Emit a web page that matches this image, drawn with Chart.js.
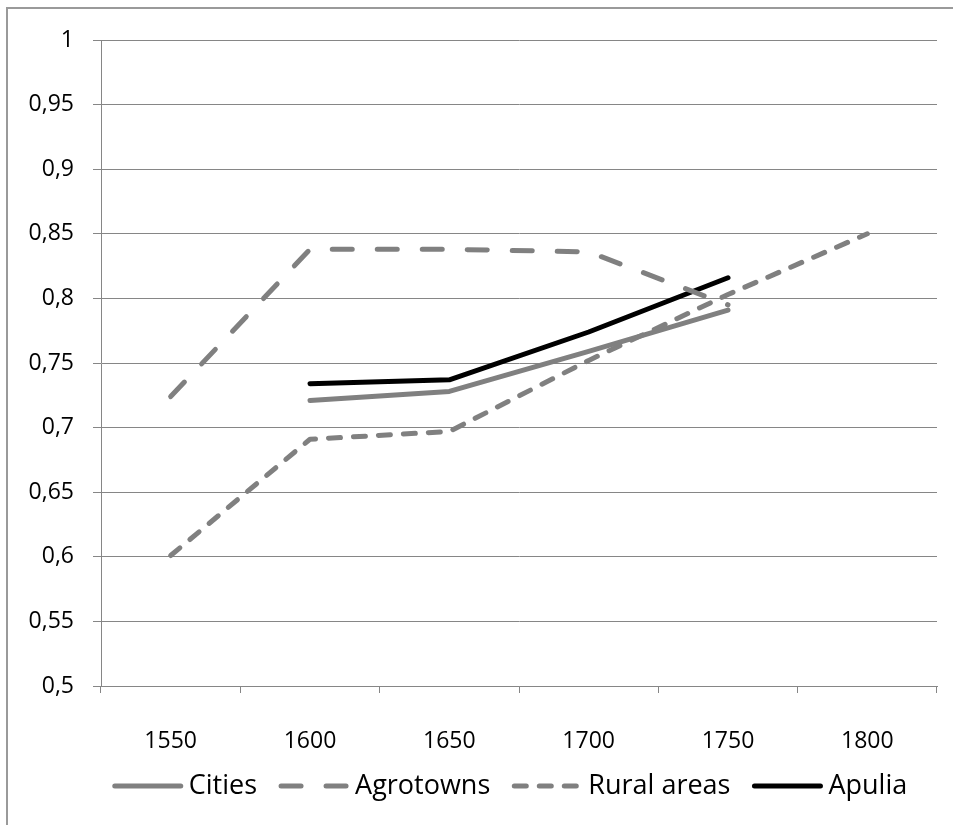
<!DOCTYPE html>
<html>
<head>
<meta charset="utf-8">
<script src="https://cdn.jsdelivr.net/npm/chart.js@4/dist/chart.umd.min.js"></script>
<style>
  html, body { margin: 0; padding: 0; background: #ffffff; overflow: hidden; }
  #wrap { position: relative; width: 953px; height: 825px; overflow: hidden; }
  #frame { position: absolute; left: 6px; top: 7px; width: 1200px; height: 1200px;
           border-left: 2px solid #9a9a9a; border-top: 2px solid #9a9a9a; box-sizing: border-box; }
  #c { position: absolute; left: 0; top: 0; }
</style>
</head>
<body>
<div id="wrap">
  <div id="frame"></div>
  <canvas id="c" width="953" height="825"></canvas>
</div>
<script>
const categories = ['1550', '1600', '1650', '1700', '1750', '1800'];
const cities    = [null, 0.721, 0.728, 0.759, 0.791, null];
const agrotowns = [0.724, 0.838, 0.838, 0.836, 0.795, null];
const rural     = [0.601, 0.691, 0.697, 0.752, 0.803, 0.850];
const apulia    = [null, 0.734, 0.737, 0.774, 0.816, null];
const yTickLabels = ['0,5', '0,55', '0,6', '0,65', '0,7', '0,75', '0,8', '0,85', '0,9', '0,95', '1'];

const FONT = "'Open Sans', 'DejaVu Sans', sans-serif";
const GRID = '#868686';
const GRAY = '#808080';

function ds(label, data, color, dash) {
  return {
    label, data,
    borderColor: color, backgroundColor: color,
    borderWidth: 5, borderDash: dash, borderCapStyle: 'round', borderJoinStyle: 'round',
    pointRadius: 0, pointHoverRadius: 0,
    tension: 0, spanGaps: false, fill: false
  };
}

// Legend drawn below the axis, styled from each dataset
const bottomLegend = {
  id: 'bottomLegend',
  afterDraw(chart) {
    const ctx = chart.ctx;
    const sets = chart.data.datasets;
    const lineLen = 70, textGap = 6, itemGap = 22, centerX = 510, centerY = 786;
    ctx.save();
    ctx.font = "27px " + FONT;
    const widths = sets.map(d => ctx.measureText(d.label).width);
    let total = 0;
    sets.forEach((d, i) => { total += lineLen + textGap + widths[i] + (i < sets.length - 1 ? itemGap : 0); });
    let x = centerX - total / 2;
    sets.forEach((d, i) => {
      ctx.save();
      ctx.strokeStyle = d.borderColor;
      ctx.lineWidth = d.borderWidth;
      ctx.lineCap = 'round';
      ctx.setLineDash(d.borderDash || []);
      ctx.beginPath();
      ctx.moveTo(x + 2, centerY);
      ctx.lineTo(x + lineLen - 2, centerY);
      ctx.stroke();
      ctx.restore();
      x += lineLen + textGap;
      ctx.fillStyle = '#000000';
      ctx.textBaseline = 'middle';
      ctx.textAlign = 'left';
      ctx.fillText(d.label, x, centerY);
      x += widths[i] + itemGap;
    });
    ctx.restore();
  }
};

new Chart(document.getElementById('c'), {
  type: 'line',
  data: {
    labels: categories,
    datasets: [
      ds('Cities', cities, GRAY, []),
      ds('Agrotowns', agrotowns, GRAY, [20, 25]),
      ds('Rural areas', rural, GRAY, [12, 13]),
      ds('Apulia', apulia, '#000000', [])
    ]
  },
  options: {
    responsive: false,
    animation: false,
    layout: { padding: { left: 0, right: 16, top: 40, bottom: 0 } },
    plugins: {
      tooltip: { enabled: false },
      legend: { display: false }
    },
    scales: {
      x: {
        type: 'category',
        offset: true,
        grid: { display: true, drawOnChartArea: false, drawTicks: true, tickLength: 7, color: GRID, offset: true },
        border: { display: true, color: GRID, width: 1 },
        ticks: { color: '#000000', font: { family: FONT, size: 23 }, padding: 35, maxRotation: 0 },
        afterFit: (s) => { s.height = 139; }
      },
      y: {
        min: 0.5, max: 1,
        grid: { color: GRID, lineWidth: 1, tickLength: 8, drawTicks: true },
        border: { display: true, color: GRID, width: 1 },
        ticks: {
          stepSize: 0.05,
          color: '#000000',
          font: { family: FONT, size: 23 },
          padding: 19,
          callback: (v, i) => yTickLabels[i]
        },
        afterFit: (s) => { s.width = 101; }
      }
    }
  },
  plugins: [bottomLegend]
});
</script>
</body>
</html>
